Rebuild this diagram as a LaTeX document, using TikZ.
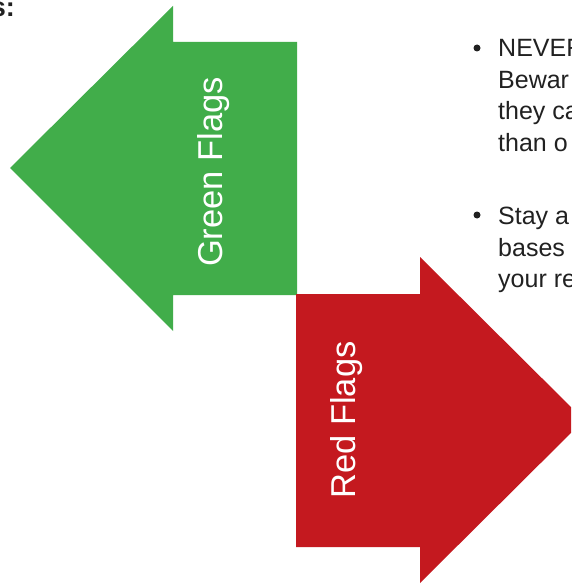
\documentclass[tikz,border=0pt]{standalone}
\usepackage{fontspec}
\setmainfont{Liberation Sans}
\definecolor{flaggreen}{HTML}{41AD4A}
\definecolor{flagred}{HTML}{C4191F}
\definecolor{bodytext}{HTML}{212121}
\tikzset{
  arrowlabel/.style={text=white, font=\fontsize{34.5}{40}\selectfont, rotate=90, inner sep=0pt},
  bodyline/.style={text=bodytext, font=\fontsize{25}{30}\selectfont, anchor=base west, inner sep=0pt},
  bulletdot/.style={circle, fill=bodytext, minimum size=7pt, inner sep=0pt},
}
\begin{document}
\begin{tikzpicture}[x=1pt,y=-1pt]
\useasboundingbox (0,0) rectangle (571,585);
\clip (0,0) rectangle (571,585);
\fill[white] (0,0) rectangle (571,585);
% green arrow (pointing left)
\fill[flaggreen] (297,42) -- (173,42) -- (173,6) -- (10,168) -- (173,331) -- (173,295) -- (297,295) -- cycle;
% red arrow (pointing right)
\fill[flagred] (296,294) -- (420,294) -- (420,257) -- (584,420) -- (420,583) -- (420,547) -- (296,547) -- cycle;
\node[arrowlabel] (green) at (214,172) {Green Flags};
\node[arrowlabel] (red) at (347,420) {Red Flags};
% heading fragment
\node[text=bodytext, font=\fontsize{27}{30}\selectfont\bfseries, anchor=base east, inner sep=0pt] (head) at (15,17) {s:};
% bullets
\node[bulletdot] (b1) at (477,48) {};
\node[bodyline] (l1) at (498,57) {NEVER};
\node[bodyline] (l2) at (498,89) {Bewar};
\node[bodyline] (l3) at (498,120) {they ca};
\node[bodyline] (l4) at (498,152) {than o};
\node[bulletdot] (b2) at (477,215) {};
\node[bodyline] (l5) at (498,224) {Stay a};
\node[bodyline] (l6) at (498,256) {bases};
\node[bodyline] (l7) at (498,287) {your re};
\end{tikzpicture}
\end{document}
